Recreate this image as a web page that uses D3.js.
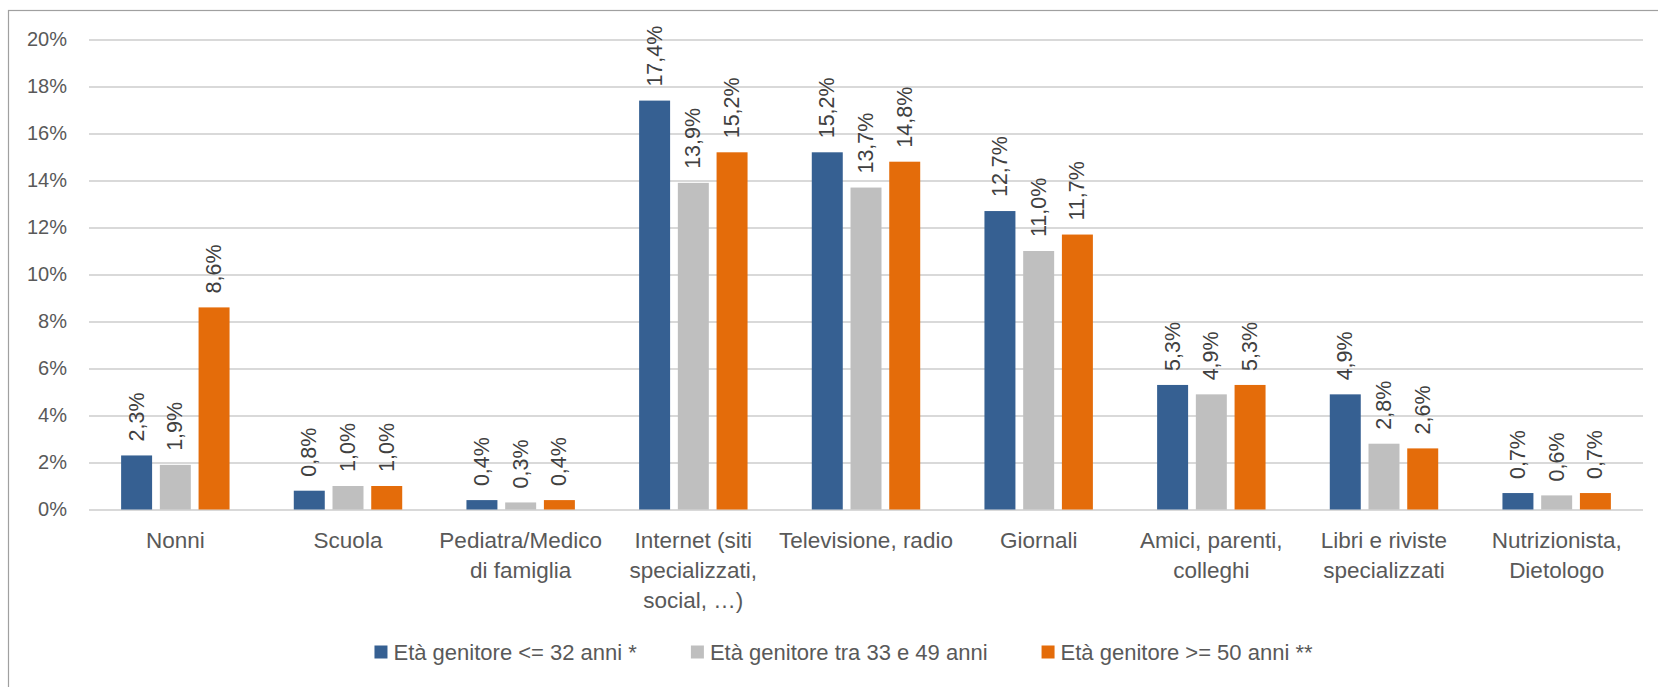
<!DOCTYPE html>
<html>
<head>
<meta charset="utf-8">
<script src="https://cdn.jsdelivr.net/npm/d3@7"></script>
<style>
  html, body { margin: 0; padding: 0; background: #ffffff; }
  svg { display: block; }
  text { font-family: "Liberation Sans", Arial, sans-serif; }
</style>
</head>
<body>
<svg id="chart" width="1658" height="687"></svg>
<script>
// ---- data ----
const categories = [
  "Nonni", "Scuola", "Pediatra/Medico di famiglia",
  "Internet (siti specializzati, social, …)", "Televisione, radio", "Giornali",
  "Amici, parenti, colleghi", "Libri e riviste specializzati", "Nutrizionista, Dietologo"
];
const categoryLines = [
  ["Nonni"], ["Scuola"], ["Pediatra/Medico", "di famiglia"],
  ["Internet (siti", "specializzati,", "social, …)"], ["Televisione, radio"], ["Giornali"],
  ["Amici, parenti,", "colleghi"], ["Libri e riviste", "specializzati"], ["Nutrizionista,", "Dietologo"]
];
const seriesNames = [
  "Età genitore <= 32 anni *",
  "Età genitore tra 33 e 49 anni",
  "Età genitore >= 50 anni **"
];
const seriesUnder32 = [2.3, 0.8, 0.4, 17.4, 15.2, 12.7, 5.3, 4.9, 0.7];
const series33to49  = [1.9, 1.0, 0.3, 13.9, 13.7, 11.0, 4.9, 2.8, 0.6];
const seriesOver50  = [8.6, 1.0, 0.4, 15.2, 14.8, 11.7, 5.3, 2.6, 0.7];
const yTicks = [0, 2, 4, 6, 8, 10, 12, 14, 16, 18, 20];
const colors = ["#366092", "#bfbfbf", "#e46c0a"];

const allSeries = [seriesUnder32, series33to49, seriesOver50];

// ---- layout ----
const svg = d3.select("#chart");
const plot = { left: 89, right: 1643, top: 39.5, bottom: 509.5 };

// chart area border (only top/left visible in the original)
svg.append("rect")
  .attr("x", 8.5).attr("y", 10.5)
  .attr("width", 1700).attr("height", 700)
  .attr("fill", "none").attr("stroke", "#a0a0a0").attr("stroke-width", 1.2);

const x0 = d3.scaleBand().domain(categories).range([plot.left, plot.right]).padding(0);
const groupWidth = x0.bandwidth() * 0.628;
const x1 = d3.scaleBand().domain(d3.range(seriesNames.length))
  .range([0, groupWidth]).paddingInner(0.2).paddingOuter(0);
const y = d3.scaleLinear().domain([0, 20]).range([plot.bottom, plot.top]);

// gridlines
const yAxis = d3.axisLeft(y).tickValues(yTicks)
  .tickSize(-(plot.right - plot.left)).tickPadding(22)
  .tickFormat(d => d + "%");
const gy = svg.append("g").attr("transform", `translate(${plot.left},0)`).call(yAxis);
gy.select(".domain").remove();
gy.selectAll(".tick line").attr("stroke", "#d9d9d9").attr("stroke-width", 2);
gy.selectAll(".tick text").attr("fill", "#595959").attr("font-size", 20)
  .attr("font-family", "'Liberation Sans', Arial, sans-serif");

// bars
const fmt = d3.formatLocale({ decimal: ",", thousands: ".", grouping: [3], currency: ["", "€"] }).format(".1f");
const groups = svg.append("g").selectAll("g")
  .data(categories)
  .join("g")
  .attr("transform", c => `translate(${x0(c) + (x0.bandwidth() - groupWidth) / 2},0)`);

groups.each(function(c, ci) {
  const g = d3.select(this);
  allSeries.forEach((s, si) => {
    const v = s[ci];
    g.append("rect")
      .attr("x", x1(si))
      .attr("y", y(v))
      .attr("width", x1.bandwidth())
      .attr("height", y(0) - y(v))
      .attr("fill", colors[si]);
    const lx = x1(si) + x1.bandwidth() / 2;
    const ly = y(v) - 14;
    g.append("text")
      .attr("transform", `translate(${lx},${ly}) rotate(-90)`)
      .attr("text-anchor", "start")
      .attr("dominant-baseline", "central")
      .attr("font-size", 21.5)
      .attr("fill", "#404040")
      .text(fmt(v) + "%");
  });
});

// category labels
const xl = svg.append("g");
categories.forEach((c, i) => {
  const t = xl.append("text")
    .attr("x", x0(c) + x0.bandwidth() / 2)
    .attr("y", 540)
    .attr("text-anchor", "middle")
    .attr("font-size", 22.5)
    .attr("fill", "#595959");
  categoryLines[i].forEach((ln, li) => {
    t.append("tspan")
      .attr("x", x0(c) + x0.bandwidth() / 2)
      .attr("y", 540 + li * 30)
      .attr("dominant-baseline", "central")
      .text(ln);
  });
});

// legend
const legend = svg.append("g");
const items = seriesNames.map((name, i) => {
  const g = legend.append("g");
  g.append("rect").attr("x", 0).attr("y", -6.5).attr("width", 13).attr("height", 13).attr("fill", colors[i]);
  const t = g.append("text").attr("x", 19).attr("y", 0)
    .attr("dominant-baseline", "central")
    .attr("font-size", 22).attr("fill", "#595959").text(name);
  return { g, w: 19 + t.node().getComputedTextLength() };
});
const itemGap = 54;
const totalW = d3.sum(items, d => d.w) + itemGap * (items.length - 1);
let cx = 843.5 - totalW / 2;
items.forEach(it => {
  it.g.attr("transform", `translate(${cx},652)`);
  cx += it.w + itemGap;
});
</script>
</body>
</html>
